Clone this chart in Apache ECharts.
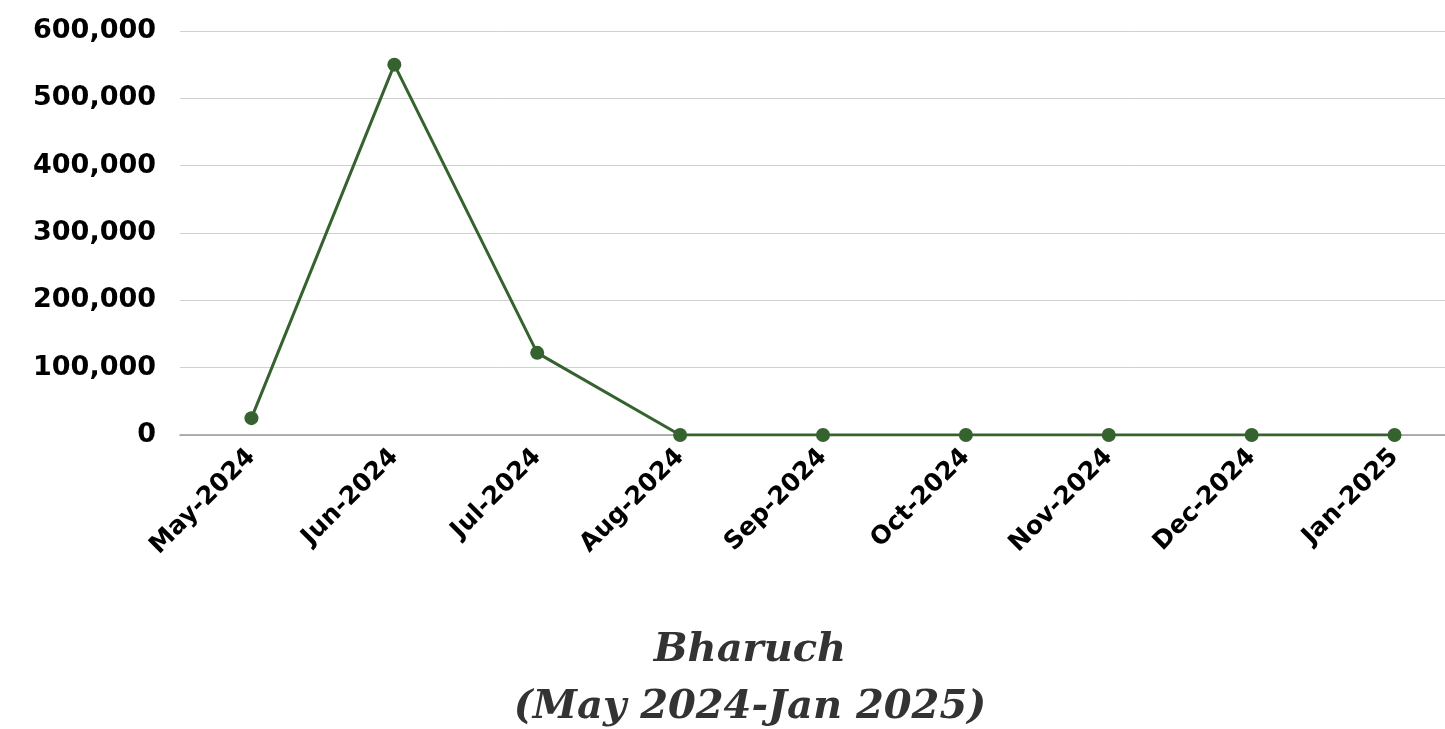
<!DOCTYPE html>
<html>
<head>
<meta charset="utf-8">
<script src="https://cdn.jsdelivr.net/npm/echarts@6/dist/echarts.min.js"></script>
<style>
  html, body { margin: 0; padding: 0; background: #fff; overflow: hidden; }
  #main { width: 1445px; height: 729px; }
</style>
</head>
<body>
<div id="main"></div>
<script>
var months = ['May-2024', 'Jun-2024', 'Jul-2024', 'Aug-2024', 'Sep-2024', 'Oct-2024', 'Nov-2024', 'Dec-2024', 'Jan-2025']
var values = [25000, 550000, 122000, 0, 0, 0, 0, 0, 0]
var yTicks = [0, 100000, 200000, 300000, 400000, 500000, 600000]

var lineColor = '#35622f'

var option = {
    backgroundColor: '#fff',
    animation: false,
    title: {
        text: 'Bharuch\n(May 2024-Jan 2025)',
        left: 745,
        textAlign: 'center',
        top: 617,
        textStyle: {
            fontFamily: 'DejaVu Serif',
            fontStyle: 'italic',
            fontWeight: 'bold',
            fontSize: 40,
            lineHeight: 57,
            color: '#333'
        }
    },
    grid: {
        left: 180,
        width: 1286,
        top: 31,
        height: 404,
        outerBoundsMode: 'none'
    },
    xAxis: {
        type: 'category',
        data: months,
        boundaryGap: true,
        axisLine: { show: true, lineStyle: { color: '#999', width: 1.5 } },
        axisTick: { show: false },
        axisLabel: {
            rotate: 45,
            margin: 18,
            fontFamily: 'DejaVu Sans',
            fontWeight: 'bold',
            fontSize: 25,
            color: '#000'
        }
    },
    yAxis: {
        type: 'value',
        min: yTicks[0],
        max: yTicks[yTicks.length - 1],
        interval: 100000,
        axisLine: { show: false },
        axisTick: { show: false },
        splitLine: { lineStyle: { color: '#d0d0d0', width: 1 } },
        axisLabel: {
            margin: 24,
            fontFamily: 'DejaVu Sans',
            fontWeight: 'bold',
            fontSize: 27,
            color: '#000',
            formatter: function(v) {
                return v.toLocaleString('en-US')
            }
        }
    },
    series: [{
        type: 'line',
        data: values,
        symbol: 'circle',
        symbolSize: 14,
        lineStyle: { color: lineColor, width: 3 },
        itemStyle: { color: lineColor }
    }]
}
echarts.init(document.getElementById('main')).setOption(option)
</script>
</body>
</html>
